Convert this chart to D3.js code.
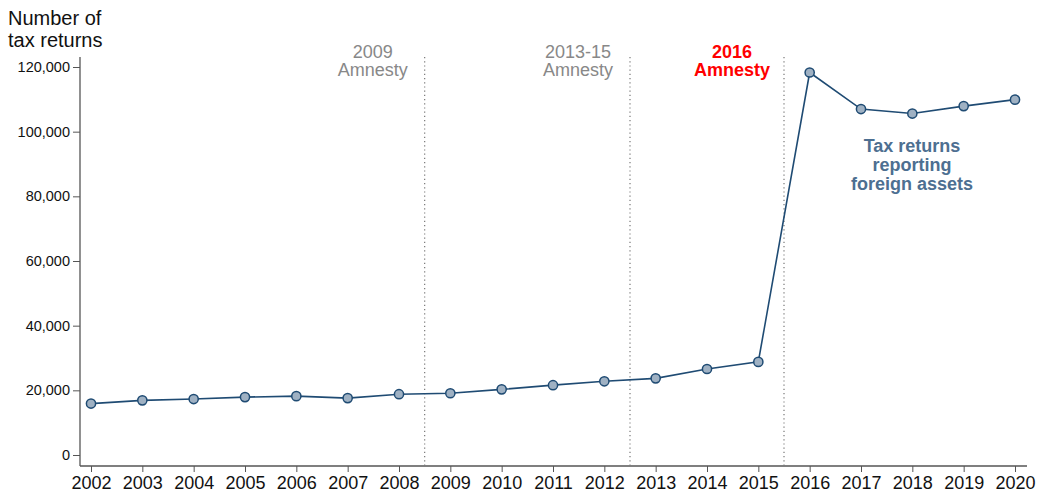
<!DOCTYPE html>
<html><head><meta charset="utf-8">
<script src="https://cdn.jsdelivr.net/npm/d3@7"></script>
<style>body{margin:0;background:#fff;font-family:"Liberation Sans",Arial,sans-serif;}</style>
</head><body><svg id="c" width="1037" height="494"></svg>
<script>
const years = [2002,2003,2004,2005,2006,2007,2008,2009,2010,2011,2012,2013,2014,2015,2016,2017,2018,2019,2020];
const returns = [15900,16900,17300,17900,18200,17600,18800,19100,20300,21600,22800,23700,26600,28800,118300,107000,105600,107900,109900];
const yTicks = [0,20000,40000,60000,80000,100000,120000];
const amnestyBreaks = [2008.5,2012.5,2015.5];
const amnestyLabels = [["2009","Amnesty"],["2013-15","Amnesty"],["2016","Amnesty"]];
const amnestyHighlight = [false,false,true];
const annotation = ["Tax returns","reporting","foreign assets"];
const yTitle = ["Number of","tax returns"];

const svg = d3.select("#c");
const x = d3.scaleLinear().domain([2002,2020]).range([91,1015]);
const y = d3.scaleLinear().domain([0,120000]).range([455,67]);
const axisColor = "#555";

svg.append("line").attr("x1",80).attr("x2",80).attr("y1",57).attr("y2",466).attr("stroke",axisColor).attr("stroke-width",1.3);
svg.append("line").attr("x1",80).attr("x2",1027).attr("y1",466).attr("y2",466).attr("stroke",axisColor).attr("stroke-width",1.3);

const yAxis = d3.axisLeft(y).tickValues(yTicks).tickFormat(d3.format(",")).tickSize(7).tickPadding(3);
const gy = svg.append("g").attr("transform","translate(80,0)").call(yAxis);
gy.select(".domain").remove();
gy.selectAll("line").attr("stroke",axisColor);
gy.selectAll("text").attr("font-size",14.5).attr("fill","#111").attr("font-family","Liberation Sans, Arial, sans-serif");

const xAxis = d3.axisBottom(x).tickValues(years).tickFormat(d3.format("d")).tickSize(6).tickPadding(4);
const gx = svg.append("g").attr("transform","translate(0,466)").call(xAxis);
gx.select(".domain").remove();
gx.selectAll("line").attr("stroke",axisColor);
gx.selectAll("text").attr("font-size",18).attr("fill","#111").attr("font-family","Liberation Sans, Arial, sans-serif");

svg.append("text").attr("x",8).attr("y",25).attr("font-size",20).attr("fill","#111")
  .selectAll("tspan").data(yTitle).join("tspan").attr("x",8).attr("dy",(d,i)=>i?22:0).text(d=>d);

amnestyBreaks.forEach((b,i)=>{
  svg.append("line").attr("x1",x(b)).attr("x2",x(b)).attr("y1",57).attr("y2",466)
    .attr("stroke","#777").attr("stroke-width",1.2).attr("stroke-dasharray","1.2,3");
  const t = svg.append("text").attr("text-anchor","middle").attr("font-size",18)
    .attr("fill",amnestyHighlight[i]?"#ff0000":"#888").attr("font-weight",amnestyHighlight[i]?"bold":"normal");
  amnestyLabels[i].forEach((s,j)=>t.append("tspan").attr("x",x(b)-52).attr("y",58+j*18).text(s));
});

svg.append("path").datum(years.map((yr,i)=>[yr,returns[i]]))
  .attr("fill","none").attr("stroke","#1f4b73").attr("stroke-width",1.6)
  .attr("d",d3.line().x(d=>x(d[0])).y(d=>y(d[1])));
svg.selectAll("circle.pt").data(years.map((yr,i)=>[yr,returns[i]])).join("circle")
  .attr("class","pt").attr("cx",d=>x(d[0])).attr("cy",d=>y(d[1])).attr("r",4.6)
  .attr("fill","#9fb1c3").attr("stroke","#1f4b73").attr("stroke-width",1.5);

const at = svg.append("text").attr("text-anchor","middle").attr("font-size",18).attr("font-weight","bold").attr("fill","#4d6f91");
annotation.forEach((s,j)=>at.append("tspan").attr("x",912).attr("y",152+j*19).text(s));
</script></body></html>
